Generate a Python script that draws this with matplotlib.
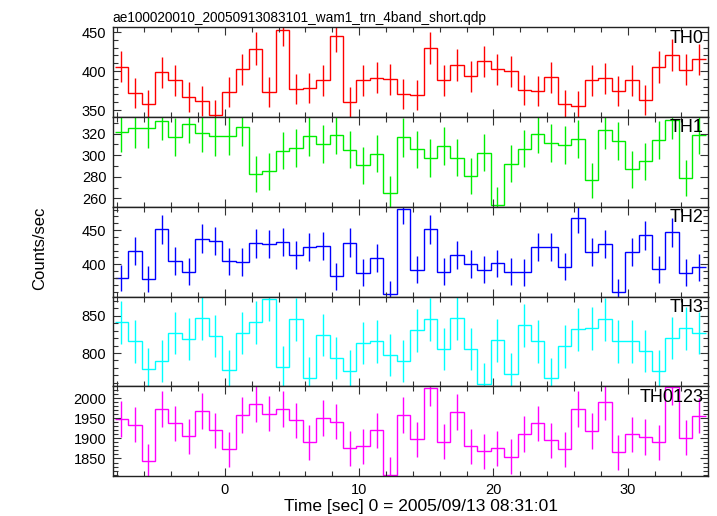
import numpy as np
import matplotlib
matplotlib.use("Agg")
import matplotlib.pyplot as plt
from matplotlib.ticker import MultipleLocator

plt.rcParams['font.family'] = ['Liberation Sans', 'DejaVu Sans']

# 1 s bins, bin centres in seconds from 2005/09/13 08:31:01
t_center = -7.7 + np.arange(44)

th0 = [405.5, 372.3, 357.4, 398.3, 388.0, 367.2, 362.1, 343.8, 372.8, 402.1,
       428.9, 373.6, 453.2, 377.4, 378.7, 388.0, 445.5, 360.4, 388.0, 391.5,
       389.4, 370.6, 369.4, 429.4, 388.0, 407.7, 393.2, 412.3, 402.1, 399.6,
       376.2, 374.9, 391.9, 357.4, 355.7, 388.0, 390.6, 374.0, 388.0, 363.0,
       405.1, 420.4, 401.7, 414.9]
th1 = [321.2, 324.9, 324.9, 332.0, 316.9, 329.2, 320.9, 317.5, 318.2, 326.2,
       282.2, 284.9, 304.3, 306.5, 317.5, 310.8, 319.1, 305.2, 290.8, 301.5,
       264.9, 316.6, 305.5, 297.5, 308.3, 297.8, 280.6, 302.5, 254.2, 292.0,
       306.2, 320.0, 311.7, 309.2, 315.4, 276.6, 323.4, 313.5, 286.8, 294.2,
       314.5, 332.9, 278.5, 318.8]
th2 = [379.6, 418.9, 378.6, 451.5, 404.9, 388.8, 437.4, 434.0, 404.4, 403.4,
       430.6, 429.6, 432.5, 413.6, 425.2, 426.7, 382.5, 431.6, 387.4, 408.7,
       356.3, 480.6, 391.7, 451.0, 389.3, 413.1, 400.5, 391.7, 401.5, 389.3,
       388.3, 424.8, 425.7, 396.6, 468.0, 418.4, 430.1, 359.7, 417.5, 442.2,
       392.7, 446.6, 387.4, 395.6]
th3 = [841.5, 815.6, 778.6, 789.7, 826.8, 818.8, 846.9, 823.2, 776.8, 826.8,
       841.5, 872.8, 781.3, 845.5, 766.5, 824.1, 793.3, 776.3, 813.4, 815.6,
       797.8, 788.8, 830.4, 845.5, 805.4, 846.9, 805.4, 758.5, 817.0, 771.9,
       837.5, 815.6, 766.1, 808.9, 832.1, 833.5, 845.5, 815.6, 815.6, 802.2,
       776.3, 820.1, 833.5, 826.8]
th0123 = [1948.3, 1934.2, 1843.3, 1973.3, 1937.5, 1905.0, 1968.3, 1920.0, 1872.5, 1958.3,
          1985.0, 1961.7, 1972.5, 1945.0, 1890.0, 1950.0, 1941.7, 1875.0, 1880.0, 1920.0,
          1810.0, 1958.3, 1898.3, 2025.8, 1891.7, 1965.8, 1880.8, 1867.5, 1875.8, 1854.2,
          1910.8, 1937.5, 1895.8, 1873.3, 1972.5, 1918.3, 1990.0, 1865.0, 1910.0, 1903.3,
          1890.0, 2027.5, 1901.7, 1956.7]

names = ['TH0', 'TH1', 'TH2', 'TH3', 'TH0123']
series = [th0, th1, th2, th3, th0123]
colors = ['#ff0000', '#00ee00', '#0000ff', '#00ffff', '#ff00ff']
ylims = [(341, 456), (252, 335.4), (352.4, 484), (754.9, 875.9), (1805.8, 2029)]
yticks = [[350, 400, 450], [260, 280, 300, 320], [400, 450], [800, 850],
          [1850, 1900, 1950, 2000]]
yminor = [10, 10, 10, 10, 10]

fig = plt.figure(figsize=(7.17, 5.16), dpi=100)
gs = fig.add_gridspec(5, 1, left=0.157, right=0.987, top=0.947, bottom=0.077, hspace=0)
axes = [fig.add_subplot(gs[i]) for i in range(5)]

edges = np.append(t_center - 0.5, t_center[-1] + 0.5)

for i, ax in enumerate(axes):
    vals = np.array(series[i])
    err = np.sqrt(vals)   # 1 s bins -> Poisson error = sqrt(counts)
    ax.stairs(vals, edges, color=colors[i], linewidth=1.0, baseline=None)
    ax.errorbar(t_center, vals, yerr=err, fmt='none', ecolor=colors[i],
                elinewidth=1.0, capsize=0)
    ax.set_xlim(-8.36, 35.95)
    ax.set_ylim(*ylims[i])
    ax.set_yticks(yticks[i])
    ax.yaxis.set_minor_locator(MultipleLocator(yminor[i]))
    ax.xaxis.set_major_locator(MultipleLocator(10))
    ax.xaxis.set_minor_locator(MultipleLocator(2))
    ax.tick_params(which='both', direction='in', top=True, right=True,
                   labelsize=10.5, width=0.8, color='#333333')
    ax.tick_params(which='major', length=6, pad=4.5)
    ax.tick_params(which='minor', length=3.5)
    for s in ax.spines.values():
        s.set_linewidth(1.0)
        s.set_color('#222222')
    if i < 4:
        ax.tick_params(labelbottom=False)
    ax.text(0.993, 0.975, names[i], transform=ax.transAxes, ha='right', va='top',
            fontsize=13)

axes[0].set_title('ae100020010_20050913083101_wam1_trn_4band_short.qdp',
                  loc='left', fontsize=9.8, pad=4)
fig.text(421 / 717, 1 - 507 / 516, 'Time [sec] 0 = 2005/09/13 08:31:01',
         ha='center', va='center', fontsize=12.5)
fig.text(0.055, 0.519, 'Counts/sec', rotation=90, ha='center', va='center', fontsize=12)

fig.savefig('out.png', dpi=100)
